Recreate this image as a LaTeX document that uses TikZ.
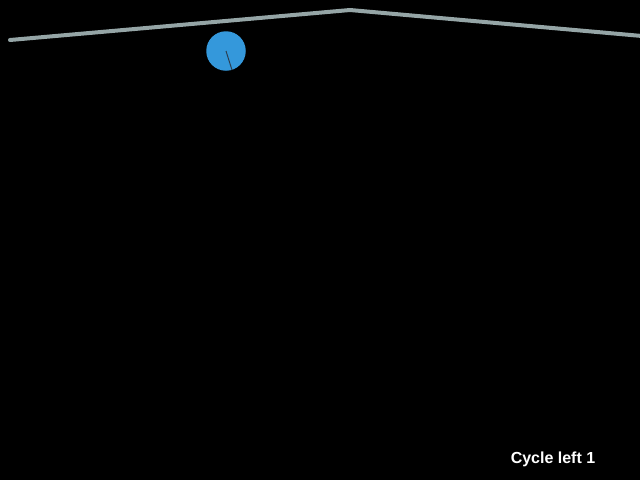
\documentclass[tikz,border=0pt]{standalone}
\usepackage{fontspec}
\setmainfont{Liberation Sans}
\usetikzlibrary{positioning, calc}

\definecolor{groundgrey}{HTML}{95A5A6}
\definecolor{ballblue}{HTML}{3498DB}
\definecolor{spokedark}{HTML}{2C3E50}

\begin{document}
\begin{tikzpicture}[
  x=1pt, y=-1pt,
  ground/.style = {draw=groundgrey, line width=4pt, line cap=round, line join=round},
  ball/.style   = {circle, fill=ballblue, minimum size=39.5pt, inner sep=0pt},
  spoke/.style  = {draw=spokedark, line width=1pt},
  label/.style  = {text=white, font=\bfseries\fontsize{16}{19}\selectfont, inner sep=0pt}
]

  % Background
  \fill[black] (0,0) rectangle (640,480);
  \useasboundingbox (0,0) rectangle (640,480);

  % Ground
  \coordinate (gleft)  at (10,40);
  \coordinate (gpeak)  at (350,10);
  \coordinate (gright) at (642,36);
  \draw[ground] (gleft) -- (gpeak) -- (gright);

  % Ball
  \node[ball] (wheel) at (226,51) {};
  \coordinate (rim) at ($(wheel.center)!1!(232,70)$);
  \draw[spoke] (wheel.center) -- (rim);

  % Status
  \node[label, anchor=base] (status) at (553,463) {Cycle left 1};

\end{tikzpicture}
\end{document}
